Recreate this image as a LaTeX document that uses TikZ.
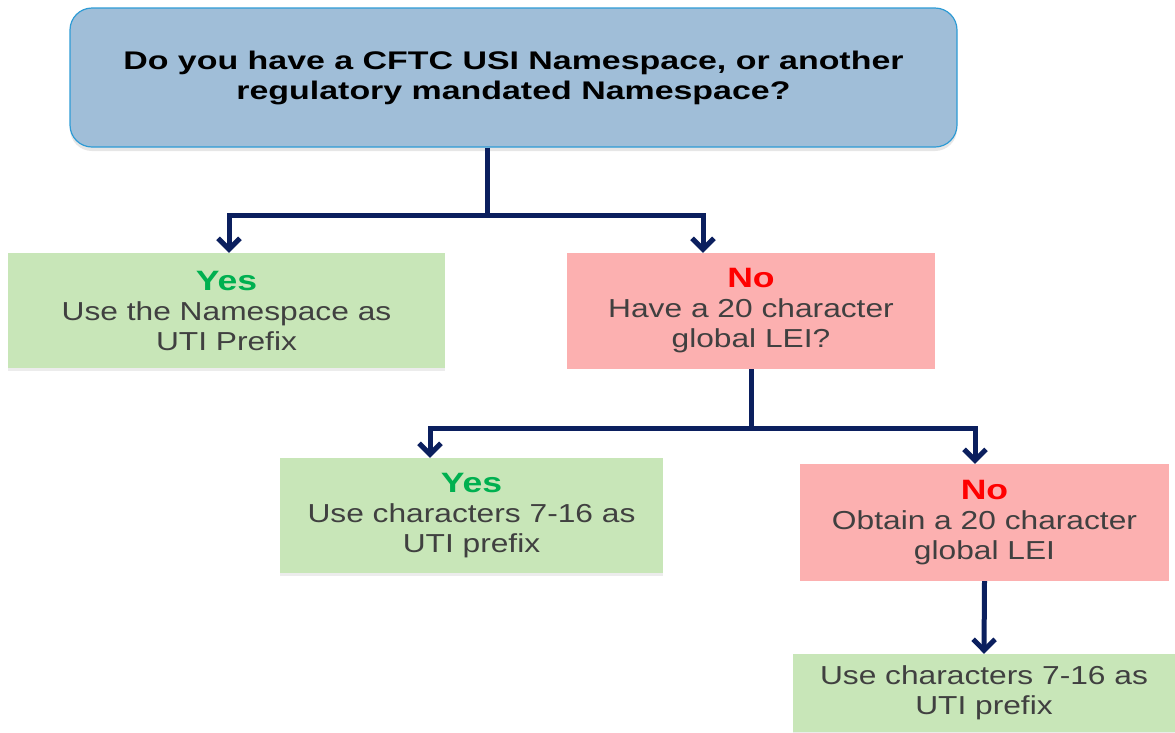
\documentclass[tikz,border=0pt]{standalone}
\usepackage{fontspec}
\setmainfont[FakeStretch=1.22]{Liberation Sans}
\newfontfamily\titlefont[FakeStretch=1.33]{Liberation Sans}
\newfontfamily\labfont[FakeStretch=1.27]{Liberation Sans}
\usetikzlibrary{arrows.meta,shadows,calc}
\definecolor{topfill}{HTML}{A0BED8}
\definecolor{topline}{HTML}{2E9BD5}
\definecolor{gfill}{HTML}{C8E6B8}
\definecolor{pfill}{HTML}{FCB0B0}
\definecolor{navy}{HTML}{0B1F5E}
\definecolor{yesg}{HTML}{00B050}
\definecolor{nor}{HTML}{FF0000}
\definecolor{txt}{HTML}{404040}
\newcommand{\yeslab}{\textcolor{yesg}{\labfont\fontsize{28}{33}\selectfont\bfseries Yes}}
\newcommand{\nolab}{\textcolor{nor}{\labfont\fontsize{28}{33}\selectfont\bfseries No}}
\tikzset{
  box/.style={inner sep=0pt, align=center, text=txt,
    font=\fontsize{26}{30}\selectfont},
  gbox/.style={box, fill=gfill, drop shadow={shadow xshift=0pt, shadow yshift=-3pt, opacity=0.15}},
  pbox/.style={box, fill=pfill},
  conn/.style={draw=navy, line width=5pt},
  arr/.style={conn, -{Straight Barb[length=11pt,width=22pt,line width=5pt]}}
}
\begin{document}
\begin{tikzpicture}[x=1pt,y=-1pt]
\useasboundingbox (0,0) rectangle (1175,732);
\node[box, fill=topfill, draw=topline, line width=1.2pt, rounded corners=22pt,
  minimum width=887pt, minimum height=139pt, text=black,
  font=\titlefont\fontsize{25.5}{30}\selectfont\bfseries,
  drop shadow={shadow xshift=0pt, shadow yshift=-4pt, opacity=0.2}]
  (top) at (513.5,77.5) {Do you have a CFTC USI Namespace, or another\\regulatory mandated Namespace?};
\node[gbox, minimum width=437pt, minimum height=115pt] (yes1) at (226.5,310.5)
  {\yeslab\\Use the Namespace as\\UTI Prefix};
\node[pbox, minimum width=368pt, minimum height=116pt] (no1) at (751,311)
  {\nolab\\Have a 20 character\\global LEI?};
\node[gbox, minimum width=383pt, minimum height=115pt] (yes2) at (471.5,515.5)
  {\yeslab\\Use characters 7-16 as\\UTI prefix};
\node[pbox, minimum width=369pt, minimum height=117pt] (no2) at (984.5,522.5)
  {\nolab\\Obtain a 20 character\\global LEI};
\node[gbox, minimum width=382pt, minimum height=78pt] (fin) at (984,693)
  {Use characters 7-16 as\\UTI prefix};
\coordinate (j1) at (487,215);
\coordinate (a1) at (229,0);
\coordinate (a2) at (703,0);
\coordinate (j2) at (751,428);
\coordinate (a3) at (430,0);
\coordinate (a4) at (975,0);
\draw[conn] (j1 |- top.south) -- (j1);
\draw[arr] (j1) -| (a1 |- yes1.north);
\draw[arr] (j1) -| (a2 |- no1.north);
\draw[conn] (no1.south) -- (j2);
\draw[arr] (j2) -| (a3 |- yes2.north);
\draw[arr] (j2) -| (a4 |- no2.north);
\draw[arr] (no2.south) -- (fin.north);
\end{tikzpicture}
\end{document}
